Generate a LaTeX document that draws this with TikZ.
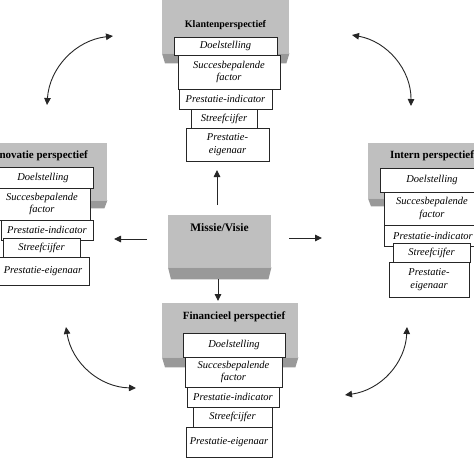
\documentclass[tikz,border=0pt]{standalone}
\usepackage{fontspec}
\setmainfont{Liberation Serif}
\usetikzlibrary{arrows.meta,calc}
\newcommand\bevelunder[2]{\fill[bevel] (#1.south west) -- (#1.south east) -- ($(#1.south east)+(-3,#2)$) -- ($(#1.south west)+(3,#2)$) -- cycle;}
\begin{document}
\begin{tikzpicture}[x=1pt,y=-1pt,
  face/.style={fill=gray!50, draw=none, inner sep=0pt, anchor=north west},
  bevel/.style={fill=gray!80},
  head/.style={font=\bfseries\fontsize{11}{13}\selectfont, inner sep=0pt},
  lbl/.style={draw=black!85, fill=white, line width=0.8pt, inner sep=0pt, align=center,
    font=\itshape\fontsize{10.5}{12.5}\selectfont},
  arr/.style={line width=0.9pt, draw=black!85, -{Triangle[length=7pt,width=6.5pt]}},
  darr/.style={line width=0.9pt, draw=black!85, {Triangle[length=7pt,width=6.5pt]}-{Triangle[length=7pt,width=6.5pt]}}
]
\useasboundingbox (0,0) rectangle (474,474);
\clip (0,0) rectangle (474,474);

% ---------- grey panels ----------
\node[face, minimum width=127pt, minimum height=58pt] (gk) at (162,-5) {};
\bevelunder{gk}{10}
\node[face, minimum width=128pt, minimum height=57pt] (gi) at (-21,143) {};
\bevelunder{gi}{8}
\node[face, minimum width=128pt, minimum height=55pt] (gr) at (368,143) {};
\bevelunder{gr}{8}
\node[face, minimum width=136pt, minimum height=54pt] (gf) at (162,303) {};
\bevelunder{gf}{10}
\node[face, minimum width=103pt, minimum height=52pt] (gm) at (168,215) {};
\bevelunder{gm}{12}

% ---------- headings ----------
\node[head, font=\bfseries\fontsize{10}{12}\selectfont] (hk) at (225.5,25) {Klantenperspectief};
\node[head] (hi) at (38.5,156) {Innovatie perspectief};
\node[head] (hr) at (432,156) {Intern perspectief};
\node[head] (hf) at (234,317) {Financieel perspectief};
\node[head, font=\bfseries\fontsize{11.5}{13}\selectfont] (hm) at (219.5,228) {Missie/Visie};

% ---------- top block ----------
\node[lbl, minimum width=103pt, minimum height=18pt] (k1) at (225.5,46) {Doelstelling};
\node[lbl, minimum width=102pt, minimum height=34pt] (k2) at (229,72) {Succesbepalende\\factor};
\node[lbl, minimum width=93pt, minimum height=20pt] (k3) at (225.5,99) {Prestatie-indicator};
\node[lbl, minimum width=66pt, minimum height=19pt] (k4) at (224,118.5) {Streefcijfer};
\node[lbl, minimum width=83pt, minimum height=33pt] (k5) at (227.5,144.5) {Prestatie-\\eigenaar};

% ---------- left block ----------
\node[lbl, minimum width=100pt, minimum height=21pt] (i1) at (43,177.5) {Doelstelling};
\node[lbl, minimum width=96pt, minimum height=32pt] (i2) at (42,204) {Succesbepalende\\factor};
\node[lbl, minimum width=92pt, minimum height=20pt] (i3) at (47,230) {Prestatie-indicator};
\node[lbl, minimum width=77pt, minimum height=19pt] (i4) at (41.5,247.5) {Streefcijfer};
\node[lbl, minimum width=92pt, minimum height=28pt] (i5) at (43,271) {Prestatie-eigenaar};

% ---------- right block ----------
\node[lbl, minimum width=104pt, minimum height=24pt] (r1) at (432,180) {Doelstelling};
\node[lbl, minimum width=96pt, minimum height=33pt] (r2) at (432,208.5) {Succesbepalende\\factor};
\node[lbl, minimum width=98pt, minimum height=21pt] (r3) at (433,235.5) {Prestatie-indicator};
\node[lbl, minimum width=77pt, minimum height=19pt] (r4) at (431.5,252.5) {Streefcijfer};
\node[lbl, minimum width=80pt, minimum height=35pt] (r5) at (429,279.5) {Prestatie-\\eigenaar};

% ---------- bottom block ----------
\node[lbl, minimum width=102pt, minimum height=24pt] (f1) at (234,345) {Doelstelling};
\node[lbl, minimum width=97pt, minimum height=30pt] (f2) at (233.5,372) {Succesbepalende\\factor};
\node[lbl, minimum width=92pt, minimum height=20pt] (f3) at (233,397) {Prestatie-indicator};
\node[lbl, minimum width=79pt, minimum height=20pt] (f4) at (232.5,417) {Streefcijfer};
\node[lbl, minimum width=86pt, minimum height=30pt] (f5) at (229,442) {Prestatie-eigenaar};

% ---------- straight arrows ----------
\coordinate (uS) at (217,205); \coordinate (uE) at (217,170);
\coordinate (lS) at (147,239); \coordinate (lE) at (114,239);
\coordinate (rS) at (289,238); \coordinate (rE) at (322,238);
\coordinate (dS) at (218,279); \coordinate (dE) at (218,301);
\draw[arr] (uS) -- (uE);
\draw[arr] (lS) -- (lE);
\draw[arr] (rS) -- (rE);
\draw[arr] (dS) -- (dE);

% ---------- curved arrows ----------
\coordinate (tl1) at (47,105); \coordinate (tl2) at (113,36);
\coordinate (tr1) at (352,35); \coordinate (tr2) at (411,106);
\coordinate (br1) at (407,327); \coordinate (br2) at (345,395);
\coordinate (bl1) at (136,388); \coordinate (bl2) at (66,327);
\draw[darr] (tl1) to[bend left=40] (tl2);
\draw[darr] (tr1) to[bend left=40] (tr2);
\draw[darr] (br1) to[bend left=40] (br2);
\draw[darr] (bl1) to[bend left=40] (bl2);
\end{tikzpicture}
\end{document}
